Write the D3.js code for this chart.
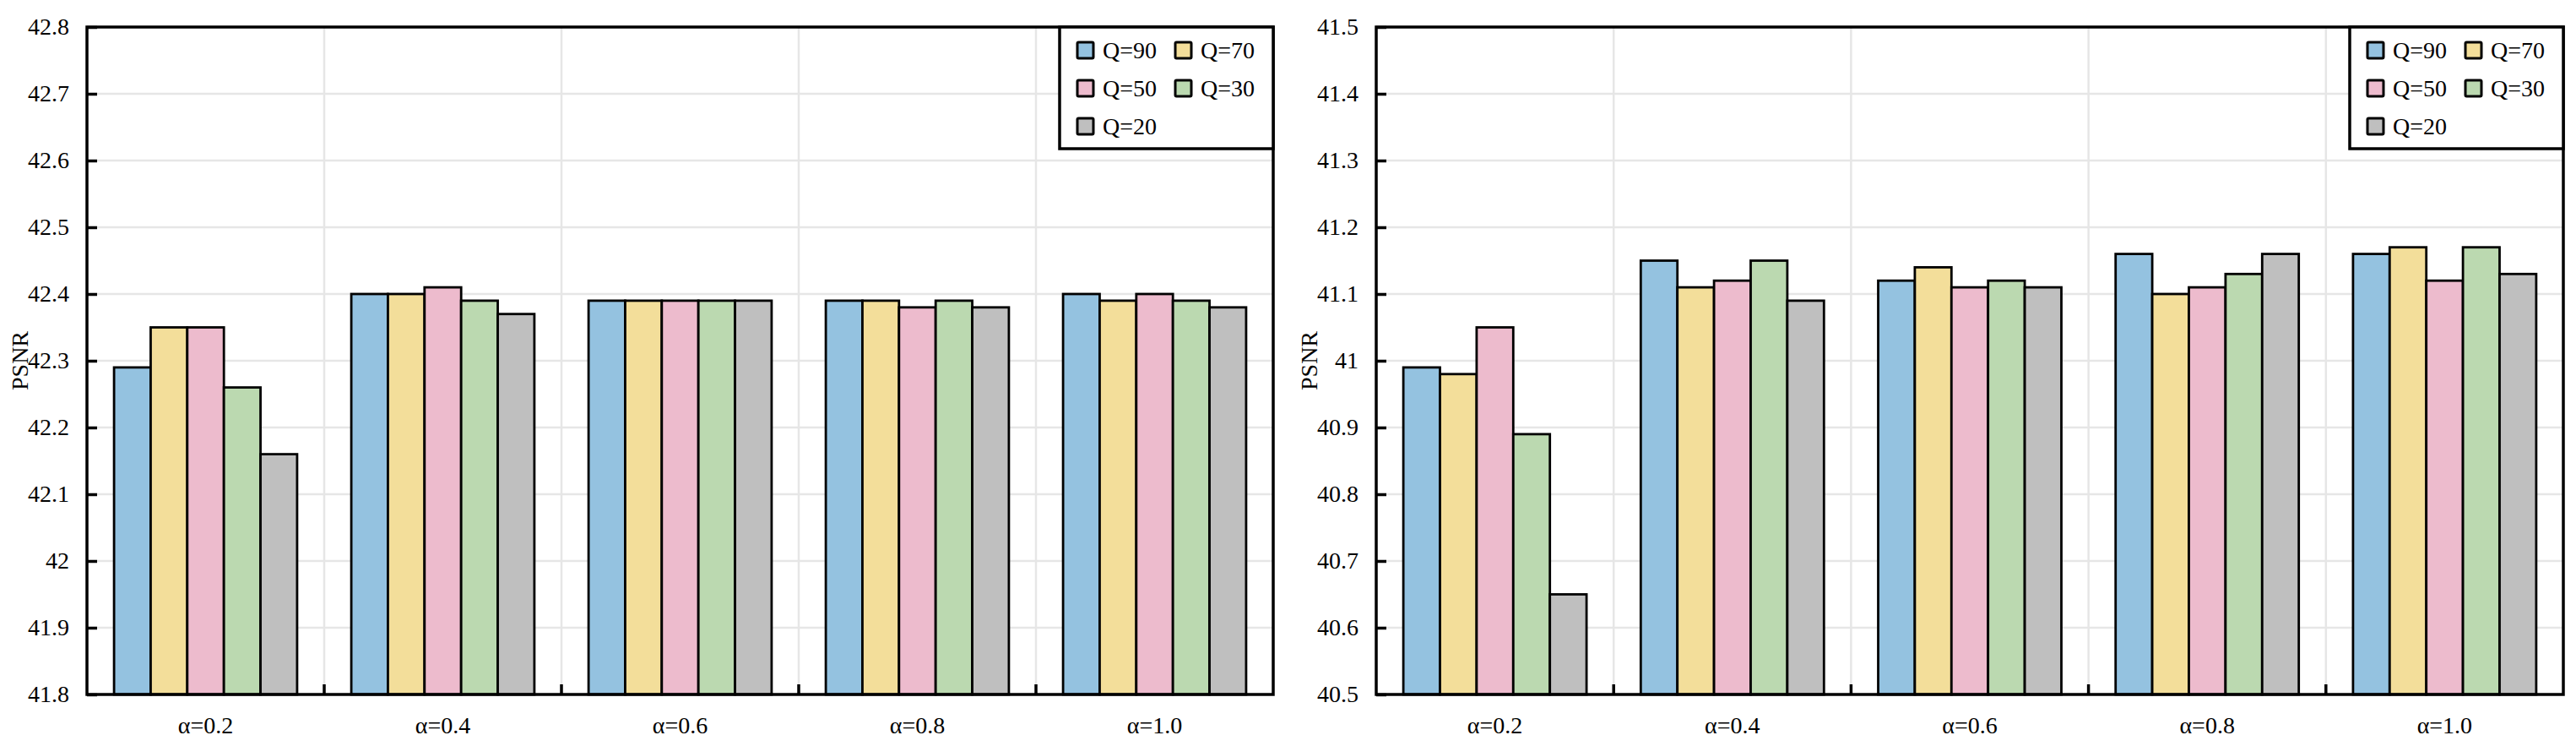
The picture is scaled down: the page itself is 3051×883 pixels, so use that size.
<!DOCTYPE html>
<html>
<head>
<meta charset="utf-8">
<script src="https://cdn.jsdelivr.net/npm/d3@7"></script>
<style>
    body { margin: 0; background: #fff; }
    text { font-family: "Liberation Serif", "Times New Roman", serif; fill: #000; }
</style>
</head>
<body>
<svg id="chart" width="3051" height="883"></svg>
<script>
const categories = ["α=0.2", "α=0.4", "α=0.6", "α=0.8", "α=1.0"];
const seriesNames = ["Q=90", "Q=70", "Q=50", "Q=30", "Q=20"];

// left panel, one array per Q, one value per alpha
const leftQ90 = [42.29, 42.40, 42.39, 42.39, 42.40];
const leftQ70 = [42.35, 42.40, 42.39, 42.39, 42.39];
const leftQ50 = [42.35, 42.41, 42.39, 42.38, 42.40];
const leftQ30 = [42.26, 42.39, 42.39, 42.39, 42.39];
const leftQ20 = [42.16, 42.37, 42.39, 42.38, 42.38];
const leftTicks = [41.8, 41.9, 42.0, 42.1, 42.2, 42.3, 42.4, 42.5, 42.6, 42.7, 42.8];

// right panel
const rightQ90 = [40.99, 41.15, 41.12, 41.16, 41.16];
const rightQ70 = [40.98, 41.11, 41.14, 41.10, 41.17];
const rightQ50 = [41.05, 41.12, 41.11, 41.11, 41.12];
const rightQ30 = [40.89, 41.15, 41.12, 41.13, 41.17];
const rightQ20 = [40.65, 41.09, 41.11, 41.16, 41.13];
const rightTicks = [40.5, 40.6, 40.7, 40.8, 40.9, 41.0, 41.1, 41.2, 41.3, 41.4, 41.5];

const colors = ["#94c2e0", "#f3de9a", "#edbbcd", "#bbd9b0", "#bfbfbf"];

const svg = d3.select("#chart");

function drawPanel(left, top, width, height, series, ticks) {
    const g = svg.append("g").attr("transform", `translate(${left}, ${top})`);

    const x = d3.scaleBand().domain(categories).range([0, width]);
    const xInner = d3.scaleBand().domain(seriesNames).range([0, x.bandwidth()])
        .paddingInner(0).paddingOuter(0.74);
    const y = d3.scaleLinear().domain(d3.extent(ticks)).range([height, 0]);

    // grid
    g.append("g").selectAll("line")
        .data(ticks.slice(1, -1))
        .enter().append("line")
        .attr("x1", 0).attr("x2", width)
        .attr("y1", d => y(d)).attr("y2", d => y(d))
        .attr("stroke", "#e6e6e6").attr("stroke-width", 2.5);

    g.append("g").selectAll("line")
        .data(categories.slice(1))
        .enter().append("line")
        .attr("x1", d => x(d)).attr("x2", d => x(d))
        .attr("y1", 0).attr("y2", height)
        .attr("stroke", "#e6e6e6").attr("stroke-width", 2.5);

    // bars
    const groups = g.append("g").selectAll("g")
        .data(categories)
        .enter().append("g")
        .attr("transform", d => `translate(${x(d)}, 0)`);

    groups.selectAll("rect")
        .data((d, ci) => seriesNames.map((s, si) => ({ s, si, v: series[si][ci] })))
        .enter().append("rect")
        .attr("x", d => xInner(d.s))
        .attr("width", xInner.bandwidth())
        .attr("y", d => y(d.v))
        .attr("height", d => y.range()[0] - y(d.v))
        .attr("fill", d => colors[d.si])
        .attr("stroke", "#000")
        .attr("stroke-width", 2.8);

    // y axis, ticks pointing inside
    const yAxis = d3.axisLeft(y)
        .tickValues(ticks)
        .tickSizeInner(-12)
        .tickSizeOuter(0)
        .tickPadding(21)
        .tickFormat(d => String(+d.toFixed(1)));

    const ya = g.append("g").call(yAxis);
    ya.select(".domain").remove();
    ya.selectAll(".tick line").attr("stroke", "#000").attr("stroke-width", 3.5);
    ya.selectAll(".tick text")
        .attr("font-family", "Liberation Serif, serif")
        .attr("font-size", 28);

    // bottom ticks between groups
    g.append("g").selectAll("line")
        .data(categories.slice(1))
        .enter().append("line")
        .attr("x1", d => x(d)).attr("x2", d => x(d))
        .attr("y1", height).attr("y2", height - 12)
        .attr("stroke", "#000").attr("stroke-width", 3.5);

    // category labels
    g.append("g").selectAll("text")
        .data(categories)
        .enter().append("text")
        .attr("x", d => x(d) + x.bandwidth() / 2)
        .attr("y", height + 46)
        .attr("text-anchor", "middle")
        .attr("font-size", 28)
        .text(d => d);

    // frame
    g.append("rect")
        .attr("width", width).attr("height", height)
        .attr("fill", "none")
        .attr("stroke", "#000")
        .attr("stroke-width", 3.5);

    // y title
    g.append("text")
        .attr("transform", `translate(-80, ${height / 2}) rotate(-90)`)
        .attr("text-anchor", "middle")
        .attr("dominant-baseline", "central")
        .attr("font-size", 28)
        .text("PSNR");

    // legend
    const lg = g.append("g").attr("transform", `translate(${width - 253}, 0)`);
    lg.append("rect")
        .attr("width", 253).attr("height", 144)
        .attr("fill", "#fff")
        .attr("stroke", "#000")
        .attr("stroke-width", 3.5);

    const items = lg.selectAll("g.item")
        .data(seriesNames)
        .enter().append("g")
        .attr("class", "item")
        .attr("transform", (d, i) => `translate(${21 + (i % 2) * 116}, ${27.5 + Math.floor(i / 2) * 45})`);

    items.append("rect")
        .attr("x", 0).attr("y", -9.5)
        .attr("width", 19).attr("height", 19)
        .attr("rx", 1.5)
        .attr("fill", (d, i) => colors[i])
        .attr("stroke", "#000")
        .attr("stroke-width", 3);

    items.append("text")
        .attr("x", 30)
        .attr("y", 0)
        .attr("dy", "0.35em")
        .attr("font-size", 28)
        .text(d => d);
}

drawPanel(103, 32, 1405, 790, [leftQ90, leftQ70, leftQ50, leftQ30, leftQ20], leftTicks);
drawPanel(1630, 32, 1406, 790, [rightQ90, rightQ70, rightQ50, rightQ30, rightQ20], rightTicks);
</script>
</body>
</html>
